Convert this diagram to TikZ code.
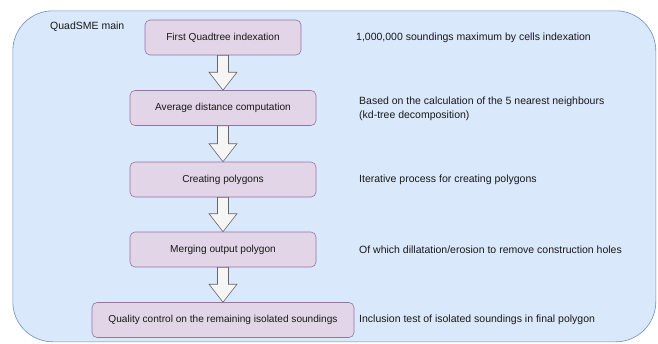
\documentclass[tikz,border=0pt]{standalone}
\usepackage{fontspec}
\setmainfont{Liberation Sans}
\usetikzlibrary{calc}
\definecolor{contfill}{HTML}{DAE8FC}
\definecolor{contline}{HTML}{6C8EBF}
\definecolor{boxfill}{HTML}{E1D5E7}
\definecolor{boxline}{HTML}{9673A6}
\definecolor{arrfill}{HTML}{F5F5F5}
\definecolor{arrline}{HTML}{666666}
\tikzset{
  stepbox/.style={draw=boxline, fill=boxfill, rounded corners=5pt, line width=0.6pt,
    minimum height=35pt, inner sep=0pt, font=\fontsize{10.1}{12}\selectfont, text=black!90},
  note/.style={anchor=west, inner sep=0pt, font=\fontsize{10.5}{14}\selectfont, text=black!90, align=left},
  blockarrow/.style={draw=arrline, fill=arrfill, line width=0.6pt, line join=miter}
}
\newcommand{\blockarr}[2]{%
  \draw[blockarrow] let \p1=(#1.south), \p2=(#2.north) in
    (\x1-5.5pt,\y1) -- (\x1+5.5pt,\y1) -- (\x1+5.5pt,\y2+18pt) -- (\x1+14pt,\y2+18pt)
    -- (\x1,\y2) -- (\x1-14pt,\y2+18pt) -- (\x1-5.5pt,\y2+18pt) -- cycle;}
\begin{document}
\begin{tikzpicture}[x=1pt,y=-1pt]
\useasboundingbox (0,0) rectangle (658,343);
\node[draw=contline, fill=contfill, rounded corners=40pt, line width=0.6pt, minimum width=643pt, minimum height=331pt, anchor=north west, inner sep=0pt] (cont) at (12.5,10.5) {};
\node[anchor=west, inner sep=0pt, font=\fontsize{10.5}{12}\selectfont, text=black!90] (title) at (50,27) {QuadSME main};
\node[stepbox, minimum width=156pt] (b1) at (223,37.5) {First Quadtree indexation};
\node[stepbox, minimum width=186pt] (b2) at (223,108) {Average distance computation};
\node[stepbox, minimum width=186pt] (b3) at (223,179.5) {Creating polygons};
\node[stepbox, minimum width=186pt] (b4) at (223,249.5) {Merging output polygon};
\node[stepbox, minimum width=262pt] (b5) at (223,320) {Quality control on the remaining isolated soundings};
\blockarr{b1}{b2}
\blockarr{b2}{b3}
\blockarr{b3}{b4}
\blockarr{b4}{b5}
\node[note] (n1) at (356,38) {1,000,000 soundings maximum by cells indexation};
\node[note] (n2) at (359,109) {Based on the calculation of the 5 nearest neighbours\\(kd-tree decomposition)};
\node[note] (n3) at (359,179.5) {Iterative process for creating polygons};
\node[note] (n4) at (359,249.5) {Of which dillatation/erosion to remove construction holes};
\node[note] (n5) at (359,320) {Inclusion test of isolated soundings in final polygon};
\end{tikzpicture}
\end{document}
